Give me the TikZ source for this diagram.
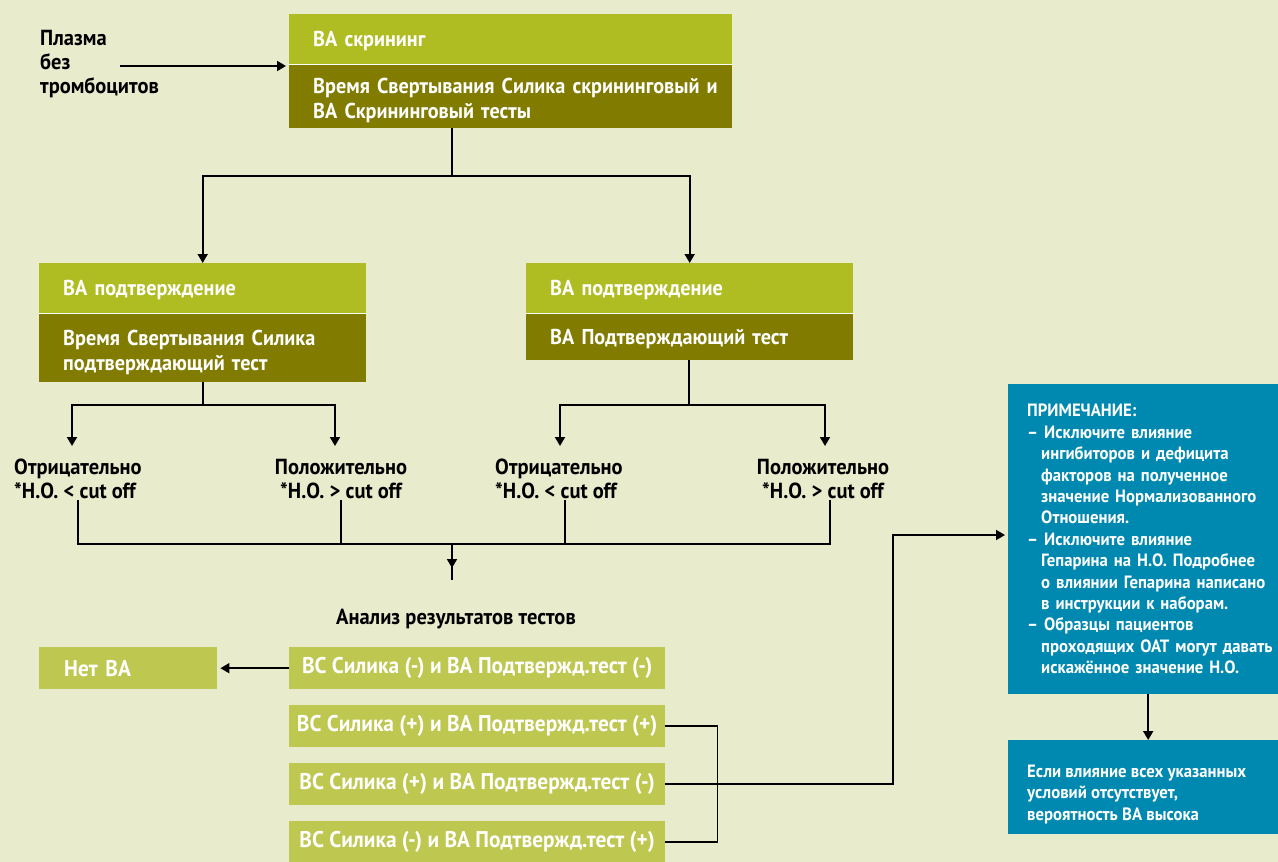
\documentclass[tikz,border=0pt]{standalone}
\usepackage{fontspec}
\setmainfont{PT Sans}[FakeStretch=0.94]
\usetikzlibrary{arrows.meta}
\definecolor{bg}{RGB}{232,235,204}
\definecolor{lgreen}{RGB}{176,189,34}
\definecolor{olivebox}{RGB}{129,123,0}
\definecolor{rgreen}{RGB}{190,199,79}
\definecolor{noteblue}{RGB}{0,137,176}
\begin{document}
\begin{tikzpicture}[x=1pt,y=-1pt,
  line/.style={line width=1.8pt, draw=black},
  arr/.style={line, -{Triangle[width=10pt,length=9pt]}},
  box/.style={anchor=north west, inner ysep=0pt, inner xsep=24pt, align=left, text=white,
     font=\fontsize{21.5}{25}\selectfont\bfseries},
  hdr/.style={box, fill=lgreen, minimum height=50pt, text depth=0pt},
  body/.style={box, fill=olivebox},
  res/.style={anchor=north west, inner sep=0pt, fill=rgreen, text=white, minimum width=376pt,
     minimum height=42pt, align=center, font=\fontsize{22.7}{24}\selectfont\bfseries},
  lbl/.style={inner sep=0pt, text=black, font=\fontsize{21.8}{24}\selectfont\bfseries},
  note/.style={anchor=north west, fill=noteblue, text=white, inner ysep=0pt, inner xsep=19pt,
     align=left, font=\fontsize{17.8}{21.4}\selectfont\bfseries},
  sep/.style={draw=white, line width=1.5pt}
]
\useasboundingbox (0,0) rectangle (1278,862);
\fill[bg] (0,0) rectangle (1278,862);

% top box
\node[hdr, text width=395pt] (h1) at (289,14) {ВА скрининг};
\node[body, text width=395pt, minimum height=64pt, text depth=20pt] (b1) at (289,64)
  {\mbox{Время Свертывания Силика скрининговый и}\\\mbox{ВА Скрининговый тесты}};
\draw[sep] (h1.south west) -- (h1.south east);

% plasma
\node[lbl, anchor=north west, align=left] (pl) at (40,30) {Плазма\\без\\тромбоцитов};
\coordinate (plx) at (120,66);
\draw[arr] (plx) -- ([xshift=-3pt]b1.west |- plx);

% second level
\node[hdr, text width=279pt] (h2) at (39,263) {ВА подтверждение};
\node[body, text width=279pt, minimum height=69pt, text depth=20pt] (b2) at (39,313)
  {\mbox{Время Свертывания Силика}\\\mbox{подтверждающий тест}};
\draw[sep] (h2.south west) -- (h2.south east);
\node[hdr, text width=279pt] (h3) at (526,263) {ВА подтверждение};
\node[body, text width=279pt, minimum height=47pt, text depth=0pt] (b3) at (526,313)
  {\mbox{ВА Подтверждающий тест}};
\draw[sep] (h3.south west) -- (h3.south east);

\coordinate (j1) at (452,176);
\draw[line] (b1.south -| j1) -- (j1);
\draw[arr] (j1) -| (h2.north);
\draw[arr] (j1) -| (h3.north);

% result labels
\node[lbl, anchor=north west, align=left] (n1) at (14,459) {Отрицательно\\*Н.О. < cut off};
\node[lbl, anchor=north, align=center] (p1) at (341,459) {Положительно\\*Н.О. > cut off};
\node[lbl, anchor=north west, align=left] (n2) at (495,459) {Отрицательно\\*Н.О. < cut off};
\node[lbl, anchor=north, align=center] (p2) at (823,459) {Положительно\\*Н.О. > cut off};

\coordinate (j2) at (203,405);
\coordinate (j3) at (689,405);
\draw[line] (b2.south -| j2) -- (j2);
\draw[arr] (j2) -| ([yshift=13pt]n1.north west -| 72,0);
\draw[arr] (j2) -| ([yshift=13pt]p1.north -| 335,0);
\draw[line] (b3.south -| j3) -- (j3);
\draw[arr] (j3) -| ([yshift=13pt]n2.north -| 560,0);
\draw[arr] (j3) -| ([yshift=13pt]p2.north -| 825,0);

% gather
\coordinate (g) at (452,544);
\draw[line] ([yshift=-1pt]n1.south -| 78,0) |- (g);
\draw[line] ([yshift=-1pt]p1.south -| 341,0) |- (g);
\draw[line] ([yshift=-1pt]n2.south -| 565,0) |- (g);
\draw[line] ([yshift=-1pt]p2.south -| 830,0) |- (g);
\coordinate (g2) at (452,580);
\draw[line] (g) -- (g2);
\draw[arr] (g) -- (452,568);

\node[lbl] (an) at (456,619) {Анализ результатов тестов};

% analysis rows
\node[res, minimum width=178pt, align=left, text width=128pt, inner xsep=25pt] (nb) at (39,647) {Нет ВА};
\node[res] (r1) at (289,647) {ВС Силика (-) и ВА Подтвержд.тест (-)};
\node[res] (r2) at (289,705) {ВС Силика (+) и ВА Подтвержд.тест (+)};
\node[res] (r3) at (289,763) {ВС Силика (+) и ВА Подтвержд.тест (-)};
\node[res] (r4) at (289,821) {ВС Силика (-) и ВА Подтвержд.тест (+)};

\draw[arr] (r1.west) -- ([xshift=3pt]nb.east);
\draw[line] (r2.east) -- ++(52,0) |- (r4.east);

% note
\node[note, text width=232pt, minimum height=310pt] (nt) at (1008,384)
  {ПРИМЕЧАНИЕ:\\
   \mbox{– Исключите влияние}\\
   \mbox{\hspace*{14pt}ингибиторов и дефицита}\\
   \mbox{\hspace*{14pt}факторов на полученное}\\
   \mbox{\hspace*{14pt}значение Нормализованного}\\
   \mbox{\hspace*{14pt}Отношения.}\\
   \mbox{– Исключите влияние}\\
   \mbox{\hspace*{14pt}Гепарина на Н.О. Подробнее}\\
   \mbox{\hspace*{14pt}о влиянии Гепарина написано}\\
   \mbox{\hspace*{14pt}в инструкции к наборам.}\\
   \mbox{– Образцы пациентов}\\
   \mbox{\hspace*{14pt}проходящих ОАТ могут давать}\\
   \mbox{\hspace*{14pt}искажённое значение Н.О.}};
\node[note, text width=232pt, minimum height=94pt] (fin) at (1008,740) {};
\node[note, anchor=west, fill=none] (fint) at ([yshift=-7pt]fin.west)
  {\mbox{Если влияние всех указанных}\\\mbox{условий отсутствует,}\\\mbox{вероятность ВА высока}};

\coordinate (k) at (893,535);
\draw[arr] (r3.east) -| (k) -- ([xshift=-3pt]nt.west |- k);
\draw[arr] ([xshift=5pt]nt.south) -- ([xshift=5pt]fin.north);
\end{tikzpicture}
\end{document}
